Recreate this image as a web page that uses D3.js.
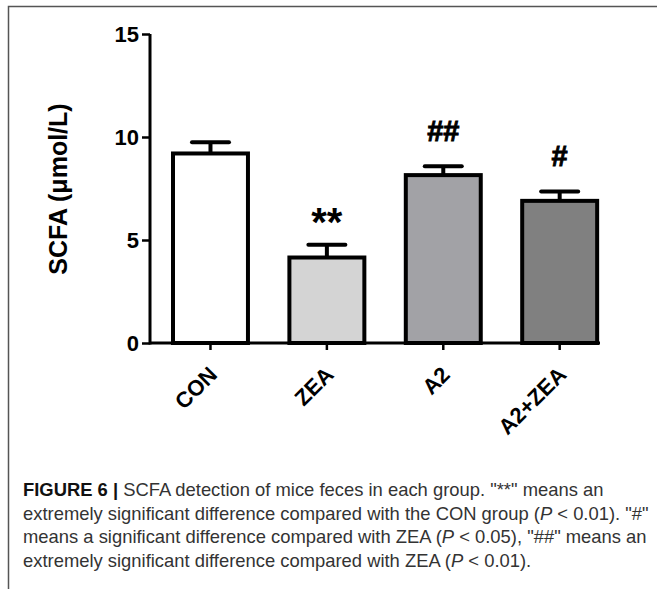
<!DOCTYPE html>
<html>
<head>
<meta charset="utf-8">
<script src="https://cdn.jsdelivr.net/npm/d3@7"></script>
<style>
  body { margin: 0; background: #fff; }
  svg text { font-family: "Liberation Sans", Arial, sans-serif; }
</style>
</head>
<body>
<svg id="chart" width="657" height="589"></svg>
<script>
// group names, mean values and upper error values
const groups = ["CON", "ZEA", "A2", "A2+ZEA"];
const means = [9.2, 4.15, 8.15, 6.9];
const upper = [9.75, 4.77, 8.58, 7.36];
const fills = ["#ffffff", "#d4d4d4", "#a2a2a6", "#808080"];
const marks = ["", "**", "##", "#"];
const yTicks = [0, 5, 10, 15];
const caption = [
  [["FIGURE 6 | ", true], ["SCFA detection of mice feces in each group. \"**\" means an", false]],
  [["extremely significant difference compared with the CON group (", false], ["P", "i"], [" < 0.01). \"#\"", false]],
  [["means a significant difference compared with ZEA (", false], ["P", "i"], [" < 0.05), \"##\" means an", false]],
  [["extremely significant difference compared with ZEA (", false], ["P", "i"], [" < 0.01).", false]]
];

const svg = d3.select("svg#chart");

// frame lines (top and left only)
svg.append("path")
  .attr("d", "M8.5,589V6.5H657")
  .attr("fill", "none")
  .attr("stroke", "#555")
  .attr("stroke-width", 1.5);

const x = d3.scaleBand()
  .domain(groups)
  .range([150, 600])
  .paddingInner(0.356)
  .paddingOuter(0.111)
  .align(0.89);

const y = d3.scaleLinear()
  .domain([0, 15])
  .range([343, 34]);

const g = svg.append("g");

// bars
g.selectAll("rect.bar")
  .data(groups)
  .enter()
  .append("rect")
  .attr("class", "bar")
  .attr("x", d => x(d))
  .attr("width", x.bandwidth())
  .attr("y", (d, i) => y(means[i]))
  .attr("height", (d, i) => y(0) - y(means[i]))
  .attr("fill", (d, i) => fills[i])
  .attr("stroke", "#000")
  .attr("stroke-width", 4);

// error bars
const cx = d => x(d) + x.bandwidth() / 2;
const err = g.selectAll("g.err").data(groups).enter().append("g").attr("class", "err");
err.append("line")
  .attr("x1", cx).attr("x2", cx)
  .attr("y1", (d, i) => y(means[i]))
  .attr("y2", (d, i) => y(upper[i]))
  .attr("stroke", "#000").attr("stroke-width", 4);
err.append("line")
  .attr("x1", d => cx(d) - 18.5).attr("x2", d => cx(d) + 18.5)
  .attr("y1", (d, i) => y(upper[i]))
  .attr("y2", (d, i) => y(upper[i]))
  .attr("stroke", "#000").attr("stroke-width", 4)
  .attr("stroke-linecap", "round");

// significance marks
g.selectAll("text.mark")
  .data(groups)
  .enter()
  .append("text")
  .attr("class", "mark")
  .attr("x", cx)
  .attr("y", (d, i) => marks[i] === "**" ? y(upper[i]) - 9 : y(upper[i]) - 25.5)
  .attr("text-anchor", "middle")
  .attr("font-weight", "bold")
  .attr("font-size", (d, i) => marks[i] === "**" ? 40 : 29)
  .attr("stroke", "#000")
  .attr("stroke-width", (d, i) => marks[i] === "**" ? 0 : 0.9)
  .text((d, i) => marks[i]);

// y axis
const yAxis = d3.axisLeft(y).tickValues(yTicks).tickSize(8).tickPadding(3);
const ya = svg.append("g").attr("transform", "translate(150,0)").call(yAxis);
ya.select(".domain").attr("stroke-width", 3).attr("d", "M0," + y(15) + "V" + (y(0) + 1.5));
ya.selectAll(".tick line").attr("stroke-width", 2.5);
ya.selectAll(".tick text")
  .attr("font-size", 22)
  .attr("font-weight", "bold")
  .attr("fill", "#000");

// x axis
const xAxis = d3.axisBottom(x).tickSize(7).tickFormat("");
const xa = svg.append("g").attr("transform", "translate(0," + y(0) + ")").call(xAxis);
xa.select(".domain").attr("stroke-width", 3).attr("d", "M150,0H600");
xa.selectAll(".tick line").attr("stroke-width", 2.5);

// rotated category labels
svg.selectAll("text.xlab")
  .data(groups)
  .enter()
  .append("text")
  .attr("class", "xlab")
  .attr("text-anchor", "end")
  .attr("font-size", 22)
  .attr("font-weight", "bold")
  .attr("transform", d => "translate(" + (cx(d) + 8) + ",376) rotate(-45)")
  .text(d => d);

// y axis title
svg.append("text")
  .attr("text-anchor", "middle")
  .attr("font-size", 25)
  .attr("font-weight", "bold")
  .attr("transform", "translate(67,189) rotate(-90)")
  .text("SCFA (μmol/L)");

// caption
const cap = svg.append("g").attr("fill", "#333").attr("font-size", 18.4);
caption.forEach(function(line, i) {
  const t = cap.append("text").attr("x", 23).attr("y", 496 + i * 23.5);
  line.forEach(function(part) {
    const s = t.append("tspan").text(part[0]);
    if (part[1] === true) s.attr("font-weight", "bold").attr("fill", "#111");
    if (part[1] === "i") s.attr("font-style", "italic");
  });
});
</script>
</body>
</html>
